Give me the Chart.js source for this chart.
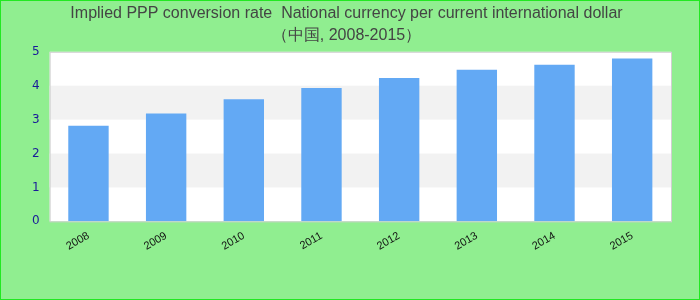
<!DOCTYPE html>
<html>
<head>
<meta charset="utf-8">
<script src="https://cdn.jsdelivr.net/npm/chart.js@4/dist/chart.umd.min.js"></script>
<style>
  html, body { margin: 0; padding: 0; background: #90ee90; }
  #wrap { width: 700px; height: 300px; position: relative; }
</style>
</head>
<body>
<div id="wrap"><canvas id="chart"></canvas></div>
<script>
const years = ['2008', '2009', '2010', '2011', '2012', '2013', '2014', '2015'];
const pppRate = [2.82, 3.18, 3.6, 3.93, 4.23, 4.47, 4.62, 4.8];
const titleLines = [
  'Implied PPP conversion rate  National currency per current international dollar',
  '（中国, 2008-2015）',
];

// green background, outer border, white plot with grey bands
const backdrop = {
  id: 'backdrop',
  beforeDraw(chart) {
    const { ctx, width, height, chartArea: a, scales: { y } } = chart;
    ctx.save();
    ctx.fillStyle = '#90ee90';
    ctx.fillRect(0, 0, width, height);
    ctx.strokeStyle = '#22e822';
    ctx.lineWidth = 1;
    ctx.strokeRect(0.5, 0.5, width - 1, height - 1);
    ctx.fillStyle = '#ffffff';
    ctx.fillRect(a.left, a.top, a.right - a.left, a.bottom - a.top);
    ctx.fillStyle = '#f2f2f2';
    for (let v = 1; v < 5; v += 2) {
      const top = y.getPixelForValue(v + 1);
      const bot = y.getPixelForValue(v);
      ctx.fillRect(a.left, top, a.right - a.left, bot - top);
    }
    ctx.strokeStyle = '#d0d0d0';
    ctx.lineWidth = 1;
    ctx.strokeRect(a.left + 0.5, a.top + 0.5, a.right - a.left, a.bottom - a.top);
    ctx.restore();
  },
};

new Chart(document.getElementById('chart'), {
  type: 'bar',
  data: {
    labels: years,
    datasets: [
      {
        data: pppRate,
        backgroundColor: '#63a9f4',
        borderWidth: 0,
        barPercentage: 0.52,
        categoryPercentage: 1,
      },
    ],
  },
  options: {
    responsive: true,
    maintainAspectRatio: false,
    animation: false,
    layout: { padding: { top: 0, bottom: 39, left: 22, right: 29 } },
    plugins: {
      legend: { display: false },
      tooltip: { enabled: false },
      title: {
        display: true,
        text: titleLines,
        color: '#444444',
        font: { size: 16, weight: 'normal', family: 'Liberation Sans, Arial, sans-serif', lineHeight: 1.4 },
        padding: { top: 2, bottom: 5 },
      },
    },
    scales: {
      x: {
        grid: { display: false, drawTicks: false },
        border: { display: false },
        ticks: {
          color: '#111111',
          minRotation: 30,
          maxRotation: 30,
          padding: 8,
          font: { size: 11, family: 'Liberation Sans, Arial, sans-serif' },
        },
      },
      y: {
        min: 0,
        max: 5,
        grid: { display: false, drawTicks: false },
        border: { display: false },
        ticks: {
          stepSize: 1,
          color: '#1a1a99',
          padding: 10,
          font: { size: 12, family: 'DejaVu Sans, sans-serif' },
        },
      },
    },
  },
  plugins: [backdrop],
});
</script>
</body>
</html>
